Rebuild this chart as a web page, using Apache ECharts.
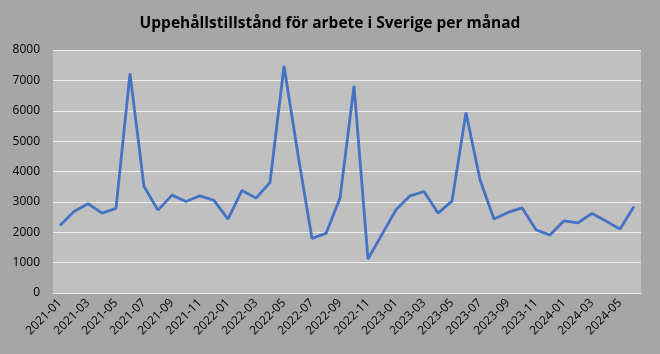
<!DOCTYPE html>
<html>
<head>
    <meta charset="UTF-8">
    <title>Uppehållstillstånd</title>
    <style>
        html, body {margin:0; padding:0; background:#a6a6a6;}
        #main {width:660px; height:354px;}
    </style>
</head>
<body>
<div id="main"></div>
<script src="https://cdn.jsdelivr.net/npm/echarts@6/dist/echarts.min.js"></script>
<script>
    var months = [
        '2021-01','2021-02','2021-03','2021-04','2021-05','2021-06','2021-07','2021-08','2021-09','2021-10','2021-11','2021-12',
        '2022-01','2022-02','2022-03','2022-04','2022-05','2022-06','2022-07','2022-08','2022-09','2022-10','2022-11','2022-12',
        '2023-01','2023-02','2023-03','2023-04','2023-05','2023-06','2023-07','2023-08','2023-09','2023-10','2023-11','2023-12',
        '2024-01','2024-02','2024-03','2024-04','2024-05','2024-06'
    ];
    var permits = [
        2225, 2685, 2937, 2630, 2784, 7233, 3507, 2729, 3222, 3014, 3200, 3047,
        2433, 3375, 3123, 3638, 7474, 4550, 1797, 1962, 3123, 6816, 1118, 1930,
        2740, 3200, 3342, 2630, 3025, 5940, 3726, 2433, 2652, 2805, 2082, 1907,
        2378, 2312, 2619, 2367, 2104, 2849
    ];
    var yTicks = [0, 8000, 1000]; // min, max, interval

    var myChart = echarts.init(document.getElementById('main'));
    var option = {
        backgroundColor: '#a6a6a6',
        title: {
            text: 'Uppehållstillstånd för arbete i Sverige per månad',
            left: 'center',
            top: 11,
            textStyle: {
                color: '#000',
                fontSize: 15.5,
                fontWeight: 'bold',
                fontFamily: 'Open Sans'
            }
        },
        grid: {
            left: 53,
            right: 19,
            top: 50,
            bottom: 61,
            show: true,
            backgroundColor: '#c0c0c0',
            borderWidth: 0
        },
        xAxis: {
            type: 'category',
            data: months,
            boundaryGap: true,
            axisLine: {lineStyle: {color: '#e8e8e8', width: 1}},
            axisTick: {show: false},
            axisLabel: {
                interval: 1,
                rotate: 45,
                color: '#000',
                fontSize: 12,
                fontFamily: 'Open Sans',
                margin: 8
            }
        },
        yAxis: {
            type: 'value',
            min: yTicks[0],
            max: yTicks[1],
            interval: yTicks[2],
            axisLine: {show: false},
            axisTick: {show: false},
            splitLine: {lineStyle: {color: '#ececec', width: 1}},
            axisLabel: {
                color: '#000',
                fontSize: 12,
                fontFamily: 'Open Sans',
                margin: 13,
                formatter: function (v) { return String(v); }
            }
        },
        series: [{
            name: 'Uppehållstillstånd',
            type: 'line',
            data: permits,
            symbol: 'none',
            lineStyle: {color: '#4472c4', width: 2.8},
            itemStyle: {color: '#4472c4'}
        }]
    };
    myChart.setOption(option);
</script>
</body>
</html>
